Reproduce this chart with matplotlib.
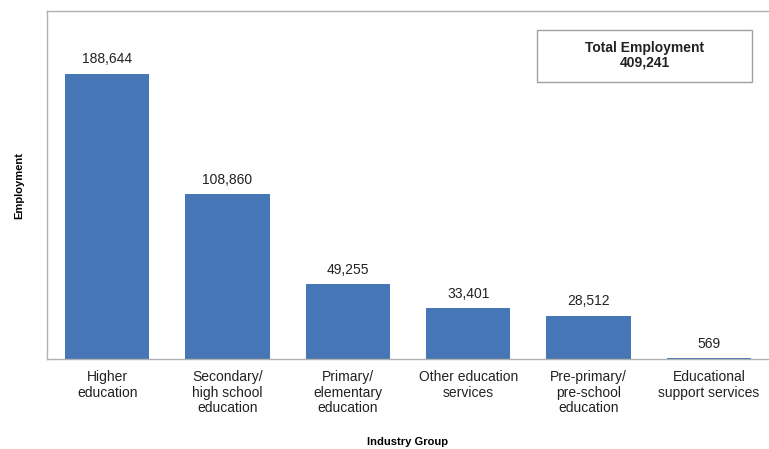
import matplotlib.pyplot as plt
from matplotlib.patches import Rectangle

plt.rcParams['font.family'] = ['Liberation Sans', 'DejaVu Sans']

categories = ['Higher\neducation', 'Secondary/\nhigh school\neducation',
              'Primary/\nelementary\neducation', 'Other education\nservices',
              'Pre-primary/\npre-school\neducation', 'Educational\nsupport services']
employment = [188644, 108860, 49255, 33401, 28512, 569]
total = 409241

fig = plt.figure(figsize=(7.69, 4.49), dpi=100)
ax = fig.add_axes([0.0611, 0.2004, 0.9389, 0.7751])

x = range(len(categories))
bars = ax.bar(x, employment, width=0.7, color='#4676b6')

for xi, v in zip(x, employment):
    ax.text(xi, v + 5000, f'{v:,}', ha='center', va='bottom', fontsize=10, color='#222222')

ax.set_xlim(-0.5, 5.5)
ax.set_ylim(0, 230000)
ax.set_yticks([])
ax.set_xticks(list(x))
ax.set_xticklabels(categories, fontsize=10, color='#222222', linespacing=1.15)
ax.tick_params(axis='x', length=0, pad=8)

for s in ax.spines.values():
    s.set_color('#b0b0b0')
    s.set_linewidth(1)
ax.spines['right'].set_visible(False)

ax.set_ylabel('Employment', fontsize=8, fontweight='bold')
ax.yaxis.set_label_coords(-0.032, 0.5)
ax.set_xlabel('Industry Group', fontsize=8, fontweight='bold')
ax.xaxis.set_label_coords(0.5, -0.225)

ax.add_patch(Rectangle((0.6787, 0.796), 0.2978, 0.1494, transform=ax.transAxes,
                       facecolor='white', edgecolor='#a0a0a0', lw=1))
ax.text(0.8276, 0.8736, f'Total Employment\n{total:,}', transform=ax.transAxes,
        ha='center', va='center', fontsize=10, fontweight='bold', color='#222222',
        linespacing=1.05)

fig.savefig('out.png', dpi=100)
